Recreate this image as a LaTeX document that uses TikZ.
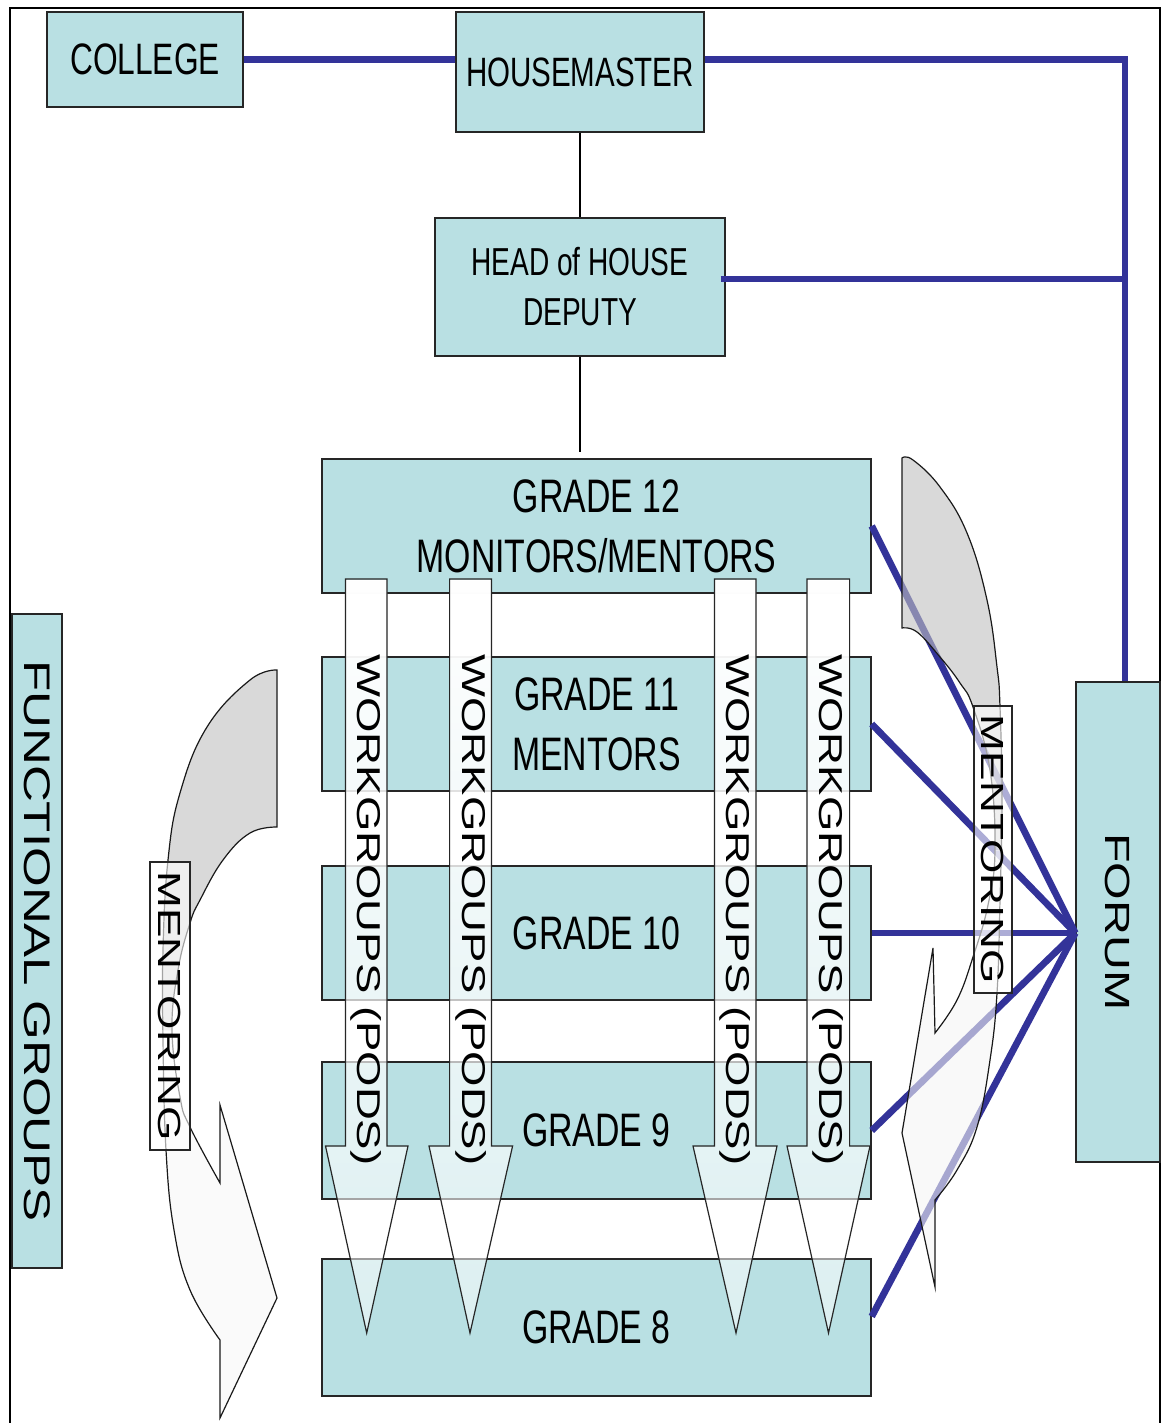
\documentclass[tikz,border=0pt]{standalone}
\usepackage{fontspec}
\setmainfont{Liberation Sans}
\newfontfamily\condf[FakeStretch=0.72]{Liberation Sans}
\newfontfamily\rotf[FakeStretch=1.38]{Liberation Sans}
\usetikzlibrary{fadings}
\definecolor{boxc}{RGB}{185,224,227}
\definecolor{linec}{RGB}{51,51,153}
\definecolor{greyc}{RGB}{192,192,192}
\tikzfading[name=wgfade, top color=transparent!0, bottom color=transparent!50]
\tikzset{
  box/.style={draw=black!85, line width=0.7pt, fill=boxc, inner sep=0pt, align=center},
  fline/.style={draw=linec, line width=3.4pt},
  hline/.style={draw=black, line width=0.6pt},
  wgbody/.style={fill=white, path fading=wgfade},
  wgedge/.style={draw=black!85, line width=0.6pt, line join=miter},
  wgtext/.style={rotate=-90, font=\rotf\fontsize{16.5}{16.5}\selectfont, inner sep=0pt},
  mlabel/.style={draw=black!85, line width=0.6pt, fill=white, fill opacity=0.6, text opacity=1,
    rotate=-90, inner sep=0pt, font=\rotf\fontsize{16}{16}\selectfont},
  cedge/.style={draw=black!90, line width=0.6pt},
}
\newcommand{\WGArrow}[6]{%
  \path[wgbody] (#1,579) -- (#1,1146) -- (#3,1146) -- (#5,1333) -- (#4,1146) -- (#2,1146) -- (#2,579) -- cycle;
  \path[wgedge] (#1,579) -- (#1,1146) -- (#3,1146) -- (#5,1333) -- (#4,1146) -- (#2,1146) -- (#2,579) -- cycle;
  \node[wgtext] (#6) at ({(#1+#2)/2},910) {WORKGROUPS (PODS)};
}
\newcommand{\LCurve}[1]{\path[#1] plot[smooth,tension=0.7] coordinates {(277,670) (250,680) (207,727) (180,793) (168,860) (163,950) (163,1040) (166,1150) (174,1230) (190,1290) (220,1340)} -- (220,1418) -- (277,1298) -- (220,1105) -- (220,1183) -- plot[smooth,tension=0.7] coordinates {(220,1183) (190,1127) (180,1097) (172,1030) (178,970) (190,923) (200,900) (223,860) (250,833) (277,827)} -- cycle;}
\newcommand{\RCurve}[1]{\path[#1] plot[smooth,tension=0.7] coordinates {(902,458) (913,460) (940,487) (967,533) (987,600) (997,667) (1000,707) (1002,800) (1000,900) (997,993) (990,1060) (977,1127) (957,1170) (935,1200)} -- (935,1287) -- (902,1133) -- (933,948) -- (935,1033) -- plot[smooth,tension=0.7] coordinates {(935,1033) (957,1000) (973,957) (988,905) (995,850) (990,770) (973,707) (960,683) (940,657) (917,632) (902,628)} -- cycle;}
\begin{document}
\begin{tikzpicture}[x=0.5pt,y=-0.5pt]
\useasboundingbox[fill=white] (0,0) rectangle (1162,1423);
\draw[line width=1pt] (10,1423) -- (10,8) -- (1160,8) -- (1160,1423);

% boxes
\node[box, minimum width=98pt, minimum height=47.5pt, font=\condf\fontsize{22}{26}\selectfont] (COL) at (145,59.5) {COLLEGE};
\node[box, minimum width=124pt, minimum height=60pt, font=\condf\fontsize{20.5}{26}\selectfont] (HM) at (580,72) {HOUSEMASTER};
\node[box, minimum width=145pt, minimum height=69pt, font=\condf\fontsize{19.5}{25}\selectfont] (HD) at (580,287) {HEAD of HOUSE\\DEPUTY};
\node[box, minimum width=274.5pt, minimum height=67pt, font=\condf\fontsize{23.5}{30}\selectfont] (G12) at (596.5,526) {GRADE 12\\MONITORS/MENTORS};
\node[box, minimum width=274.5pt, minimum height=67pt, font=\condf\fontsize{23.5}{30}\selectfont] (G11) at (596.5,724) {GRADE 11\\MENTORS};
\node[box, minimum width=274.5pt, minimum height=67pt, font=\condf\fontsize{23.5}{30}\selectfont] (G10) at (596.5,933) {GRADE 10};
\node[box, minimum width=274.5pt, minimum height=68.5pt, font=\condf\fontsize{23.5}{30}\selectfont] (G9) at (596.5,1130.5) {GRADE 9};
\node[box, minimum width=274.5pt, minimum height=68.5pt, font=\condf\fontsize{23.5}{30}\selectfont] (G8) at (596.5,1327.5) {GRADE 8};
\node[box, rotate=-90, minimum width=327pt, minimum height=25pt, font=\rotf\fontsize{18.5}{18.5}\selectfont] (FG) at (37,941) {FUNCTIONAL GROUPS};
\node[box, rotate=-90, minimum width=240pt, minimum height=42pt, font=\rotf\fontsize{17.5}{17.5}\selectfont] (FOR) at (1118,922) {FORUM};

% thin connectors
\draw[hline] (HM.south) -- (HD.north);
\draw[hline] (HD.south) -- ([yshift=3pt]HD.south |- G12.north);

% blue connectors (FORUM is rotated: its west anchor is on top, its south anchor on the left)
\coordinate (j1) at (1125,59.5);
\coordinate (j2) at (1125,279);
\draw[fline] (COL.east) -- (COL.east -| HM.west);
\draw[fline] (COL.east -| HM.east) -- (j1) -- (j1 |- FOR.west);
\draw[fline] ([xshift=-2.5pt]HD.east |- j2) -- (j2);
\coordinate (hub) at (FOR.south |- G10.east);
\foreach \g in {G12,G11,G10,G9} \draw[fline] (\g.east) -- (hub);
\draw[fline] ([yshift=5.5pt]G8.east) -- (hub);

% workgroup arrows
\WGArrow{345.5}{387}{325.5}{408}{366.7}{wg1}
\WGArrow{449.6}{491.5}{429}{512.6}{470}{wg2}
\WGArrow{714.4}{756}{693}{777}{736}{wg3}
\WGArrow{807}{849.6}{787}{870}{828.5}{wg4}

% left curved arrow
\begin{scope}
  \clip (0,0) rectangle (1162,1030);
  \LCurve{fill=greyc, fill opacity=0.6}
\end{scope}
\begin{scope}
  \clip (0,1030) rectangle (1162,1423);
  \LCurve{fill=white!97!black, fill opacity=0.6}
\end{scope}
\LCurve{cedge}

% right curved arrow
\begin{scope}
  \clip (0,0) rectangle (1162,850);
  \RCurve{fill=greyc, fill opacity=0.6}
\end{scope}
\begin{scope}
  \clip (0,850) rectangle (1162,1423);
  \RCurve{fill=white!96!black, fill opacity=0.6}
\end{scope}
\RCurve{cedge}

% mentoring labels
\node[mlabel, minimum width=144pt, minimum height=20pt] (ml1) at (170,1006) {MENTORING};
\node[mlabel, minimum width=143.5pt, minimum height=19pt] (ml2) at (993,849.5) {MENTORING};
\end{tikzpicture}
\end{document}
